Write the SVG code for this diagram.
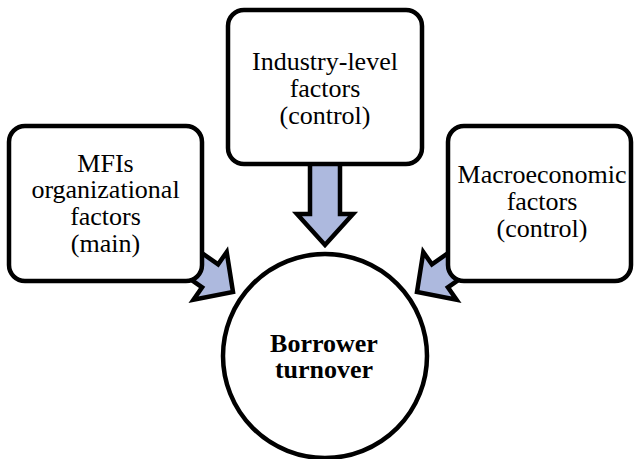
<svg xmlns="http://www.w3.org/2000/svg" width="634" height="459" viewBox="0 0 634 459">
<style>
.box{fill:#fff;stroke:#000;stroke-width:4.5}
.arr{fill:#adb9de;stroke:#000;stroke-width:4.5;stroke-linejoin:miter}
text{font-family:'Liberation Serif','Times New Roman',serif;font-size:26px;text-anchor:middle;fill:#000}
.b{font-weight:bold}
</style>
<g id="connectors">
<polygon class="arr" points="310,150 340,150 340,214 353,214 325,245 297,214 310,214"/>
<polygon class="arr" points="169,230 218.1,264.4 226.7,252.1 233,292 193.5,299.7 202.1,287.4 153,253"/>
<polygon class="arr" points="481,230 431.9,264.4 423.3,252.1 417,292 456.5,299.7 447.9,287.4 497,253"/>
</g>
<g id="node-industry">
<rect class="box" x="228" y="10" width="194" height="154" rx="16"/>
<text x="325" y="70">Industry-level</text>
<text x="325" y="97">factors</text>
<text x="325" y="124">(control)</text>
</g>
<g id="node-mfis">
<rect class="box" x="9" y="126" width="193" height="155" rx="16"/>
<text x="105.5" y="172">MFIs</text>
<text x="105.5" y="198">organizational</text>
<text x="105.5" y="225">factors</text>
<text x="105.5" y="252">(main)</text>
</g>
<g id="node-macro">
<rect class="box" x="448" y="126" width="183" height="155" rx="16"/>
<text x="542" y="183">Macroeconomic</text>
<text x="542" y="210">factors</text>
<text x="542" y="237">(control)</text>
</g>
<g id="node-borrower">
<circle class="box" cx="325" cy="356" r="102"/>
<text class="b" x="324" y="352">Borrower</text>
<text class="b" x="324" y="378">turnover</text>
</g>
</svg>
